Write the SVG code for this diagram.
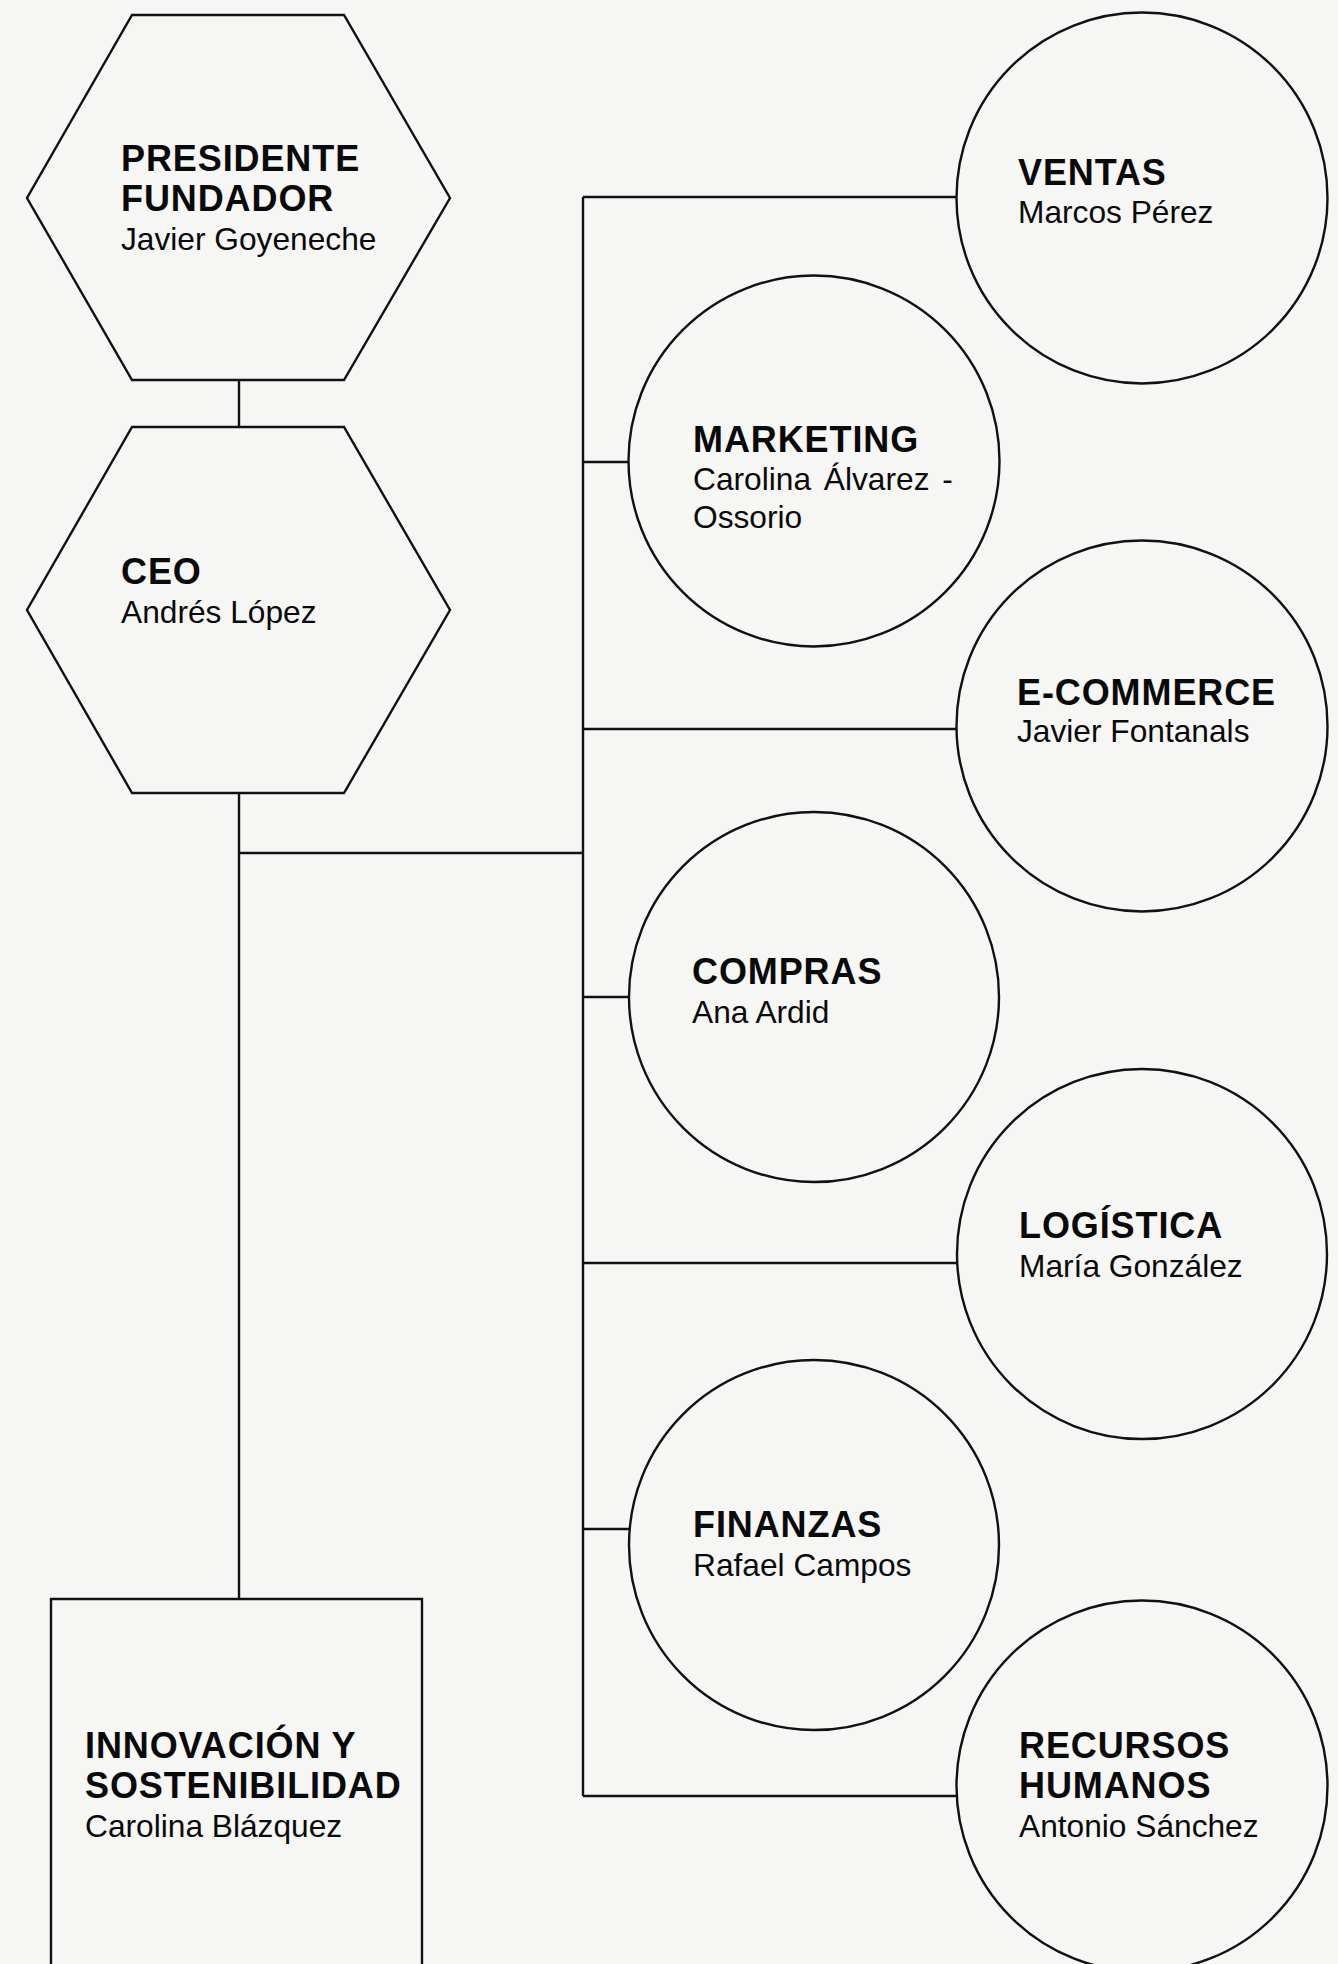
<svg xmlns="http://www.w3.org/2000/svg" width="1338" height="1964" viewBox="0 0 1338 1964">
<style>
.shape{fill:none;stroke:#111;stroke-width:2.4}
.conn{fill:none;stroke:#111;stroke-width:2.4}
.t{font-family:"Liberation Sans",Arial,Helvetica,sans-serif;fill:#0a0a0a}
.b{font-weight:bold;font-size:36px;letter-spacing:0.9px}
.r{font-size:31.7px}
</style>
<rect x="0" y="0" width="1338" height="1964" fill="#f6f6f5"/>
<g id="connectors">
<line class="conn" x1="239" y1="380" x2="239" y2="427"/>
<line class="conn" x1="239" y1="793" x2="239" y2="1599"/>
<line class="conn" x1="239" y1="853" x2="583" y2="853"/>
<line class="conn" x1="583" y1="197" x2="583" y2="1796"/>
<line class="conn" x1="583" y1="197" x2="956" y2="197"/>
<line class="conn" x1="583" y1="462" x2="629" y2="462"/>
<line class="conn" x1="583" y1="729" x2="956" y2="729"/>
<line class="conn" x1="583" y1="997" x2="629" y2="997"/>
<line class="conn" x1="583" y1="1263" x2="956" y2="1263"/>
<line class="conn" x1="583" y1="1529" x2="629" y2="1529"/>
<line class="conn" x1="583" y1="1796" x2="956" y2="1796"/>
</g>
<g id="presidente">
<polygon class="shape" points="132,15 344,15 450,198 344,380 132,380 27,198"/>
<text class="t b" x="121" y="171">PRESIDENTE</text>
<text class="t b" x="121" y="211">FUNDADOR</text>
<text class="t r" x="121" y="250">Javier Goyeneche</text>
</g>
<g id="ceo">
<polygon class="shape" points="132,427 344,427 450,610 344,793 132,793 27,610"/>
<text class="t b" x="121" y="584">CEO</text>
<text class="t r" x="121" y="623">Andrés López</text>
</g>
<g id="innovacion">
<path class="shape" d="M51,1975 L51,1599 L422,1599 L422,1975"/>
<text class="t b" x="85" y="1758">INNOVACIÓN Y</text>
<text class="t b" x="85" y="1798">SOSTENIBILIDAD</text>
<text class="t r" x="85" y="1837">Carolina Blázquez</text>
</g>
<g id="ventas">
<circle class="shape" cx="1142" cy="198" r="185.5"/>
<text class="t b" x="1018" y="185">VENTAS</text>
<text class="t r" x="1018" y="223">Marcos Pérez</text>
</g>
<g id="marketing">
<circle class="shape" cx="814" cy="461" r="185.5"/>
<text class="t b" x="693" y="452">MARKETING</text>
<text class="t r" x="693" y="490" word-spacing="4">Carolina Álvarez -</text>
<text class="t r" x="693" y="528">Ossorio</text>
</g>
<g id="ecommerce">
<circle class="shape" cx="1142" cy="726" r="185.5"/>
<text class="t b" x="1017" y="705">E-COMMERCE</text>
<text class="t r" x="1017" y="742">Javier Fontanals</text>
</g>
<g id="compras">
<circle class="shape" cx="814" cy="997" r="185"/>
<text class="t b" x="692" y="984">COMPRAS</text>
<text class="t r" x="692" y="1023">Ana Ardid</text>
</g>
<g id="logistica">
<circle class="shape" cx="1142" cy="1254" r="185"/>
<text class="t b" x="1019" y="1238">LOGÍSTICA</text>
<text class="t r" x="1019" y="1277">María González</text>
</g>
<g id="finanzas">
<circle class="shape" cx="814" cy="1545" r="185"/>
<text class="t b" x="693" y="1537">FINANZAS</text>
<text class="t r" x="693" y="1576">Rafael Campos</text>
</g>
<g id="rrhh">
<circle class="shape" cx="1142" cy="1786" r="185.5"/>
<text class="t b" x="1019" y="1758">RECURSOS</text>
<text class="t b" x="1019" y="1798">HUMANOS</text>
<text class="t r" x="1019" y="1837">Antonio Sánchez</text>
</g>
</svg>
